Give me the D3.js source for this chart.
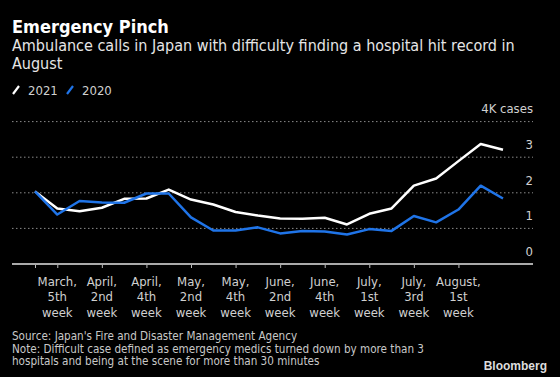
<!DOCTYPE html>
<meta charset="utf-8" />
<script src="https://d3js.org/d3.v7.min.js"></script>
<style>
  body { margin: 0; background: #000; }
  text { font-family: "DejaVu Sans Condensed", "DejaVu Sans", sans-serif; }
</style>
<div id="chart"></div>
<script>
  // weekly categories (first week unlabeled on the axis)
  const weeks = [
    "March, 4th week", "March, 5th week", "April, 1st week", "April, 2nd week",
    "April, 3rd week", "April, 4th week", "May, 1st week", "May, 2nd week",
    "May, 3rd week", "May, 4th week", "June, 1st week", "June, 2nd week",
    "June, 3rd week", "June, 4th week", "June, 5th week", "July, 1st week",
    "July, 2nd week", "July, 3rd week", "July, 4th week", "August, 1st week",
    "August, 2nd week", "August, 3rd week"
  ];
  // thousands of cases
  const values2021 = [2.04, 1.56, 1.48, 1.58, 1.83, 1.84, 2.09, 1.81, 1.67, 1.46, 1.36,
    1.28, 1.27, 1.30, 1.11, 1.41, 1.56, 2.20, 2.40, 2.89, 3.37, 3.21];
  const values2020 = [2.04, 1.39, 1.77, 1.73, 1.72, 1.98, 1.98, 1.31, 0.94, 0.94, 1.03,
    0.86, 0.93, 0.91, 0.83, 0.98, 0.93, 1.35, 1.17, 1.53, 2.20, 1.84];
  const tickWeeks = [
    "March, 4th week", "March, 5th week", "April, 2nd week", "April, 4th week",
    "May, 2nd week", "May, 4th week", "June, 2nd week", "June, 4th week",
    "July, 1st week", "July, 3rd week", "August, 1st week"
  ];
  const labelWeeks = tickWeeks.slice(1);
  const yTicks = [0, 1, 2, 3, 4];

  const width = 560, height = 377;
  const svg = d3.select("#chart").append("svg")
    .attr("width", width).attr("height", height)
    .style("background", "#000");

  const x = d3.scalePoint().domain(weeks).range([35, 503]);
  const y = d3.scaleLinear().domain([0, 4]).range([264, 121.6]);

  // title block
  svg.append("text").attr("x", 12).attr("y", 33)
    .attr("fill", "#fff").style("font-size", "18px").style("font-weight", "bold")
    .text("Emergency Pinch");
  const sub = svg.append("text").attr("fill", "#e6e6e6").style("font-size", "16px");
  sub.append("tspan").attr("x", 12).attr("y", 50.5)
    .text("Ambulance calls in Japan with difficulty finding a hospital hit record in");
  sub.append("tspan").attr("x", 12).attr("y", 68.5).text("August");

  // legend
  const legend = [{ name: "2021", color: "#fff", x: 12 }, { name: "2020", color: "#1f74e8", x: 66 }];
  legend.forEach(function (d) {
    svg.append("line")
      .attr("x1", d.x + 1).attr("y1", 94).attr("x2", d.x + 7).attr("y2", 86)
      .attr("stroke", d.color).attr("stroke-width", 2.2);
    svg.append("text").attr("x", d.x + 16).attr("y", 95)
      .attr("fill", "#d0d0d0").style("font-size", "13px").text(d.name);
  });

  // grid
  svg.selectAll(".grid").data(yTicks.filter((d) => d > 0)).join("line")
    .attr("class", "grid")
    .attr("x1", 12).attr("x2", 533)
    .attr("y1", (d) => y(d)).attr("y2", (d) => y(d))
    .attr("stroke", "#8a8a8a").attr("stroke-width", 1)
    .attr("stroke-dasharray", "1.5,2.5");

  // top tick carries the unit label instead of a number
  svg.selectAll(".ylab").data(yTicks.slice(0, -1)).join("text")
    .attr("class", "ylab")
    .attr("x", 533).attr("y", (d) => y(d) - 8)
    .attr("text-anchor", "end")
    .attr("fill", "#d0d0d0").style("font-size", "13px")
    .text((d) => d);

  svg.append("text").attr("x", 533).attr("y", y(4) - 9)
    .attr("text-anchor", "end")
    .attr("fill", "#d0d0d0").style("font-size", "13px")
    .text("4K cases");

  // x axis
  const xAxis = svg.append("g").attr("transform", "translate(0,264)")
    .call(d3.axisBottom(x).tickValues(tickWeeks).tickSize(4).tickFormat(""));
  xAxis.select(".domain").remove();
  xAxis.selectAll(".tick line").attr("stroke", "#bbb");
  svg.append("line").attr("x1", 12).attr("x2", 533).attr("y1", 264).attr("y2", 264)
    .attr("stroke", "#aaa").attr("stroke-width", 2);

  labelWeeks.forEach(function (w) {
    const parts = w.split(" ");
    const t = svg.append("text").attr("text-anchor", "middle")
      .attr("fill", "#d0d0d0").style("font-size", "13px");
    parts.forEach(function (l, i) {
      t.append("tspan").attr("x", x(w)).attr("y", 286 + i * 15.3).text(l);
    });
  });

  // lines
  const line = d3.line().x((d, i) => x(weeks[i])).y((d) => y(d));
  svg.append("path").datum(values2021)
    .attr("fill", "none").attr("stroke", "#fff").attr("stroke-width", 2.5)
    .attr("stroke-linejoin", "round").attr("d", line);
  svg.append("path").datum(values2020)
    .attr("fill", "none").attr("stroke", "#1f74e8").attr("stroke-width", 2.5)
    .attr("stroke-linejoin", "round").attr("d", line);

  // footer
  const foot = svg.append("text").attr("fill", "#c8c8c8").style("font-size", "11.6px");
  ["Source: Japan's Fire and Disaster Management Agency",
   "Note: Difficult case defined as emergency medics turned down by more than 3",
   "hospitals and being at the scene for more than 30 minutes"].forEach(function (l, i) {
    foot.append("tspan").attr("x", 12).attr("y", 340 + i * 12.6).text(l);
  });
  svg.append("text").attr("x", 547).attr("y", 370).attr("text-anchor", "end")
    .attr("fill", "#ddd").style("font-size", "12px").style("font-weight", "bold")
    .style("font-family", "Liberation Sans, Arial, sans-serif")
    .text("Bloomberg");
</script>
